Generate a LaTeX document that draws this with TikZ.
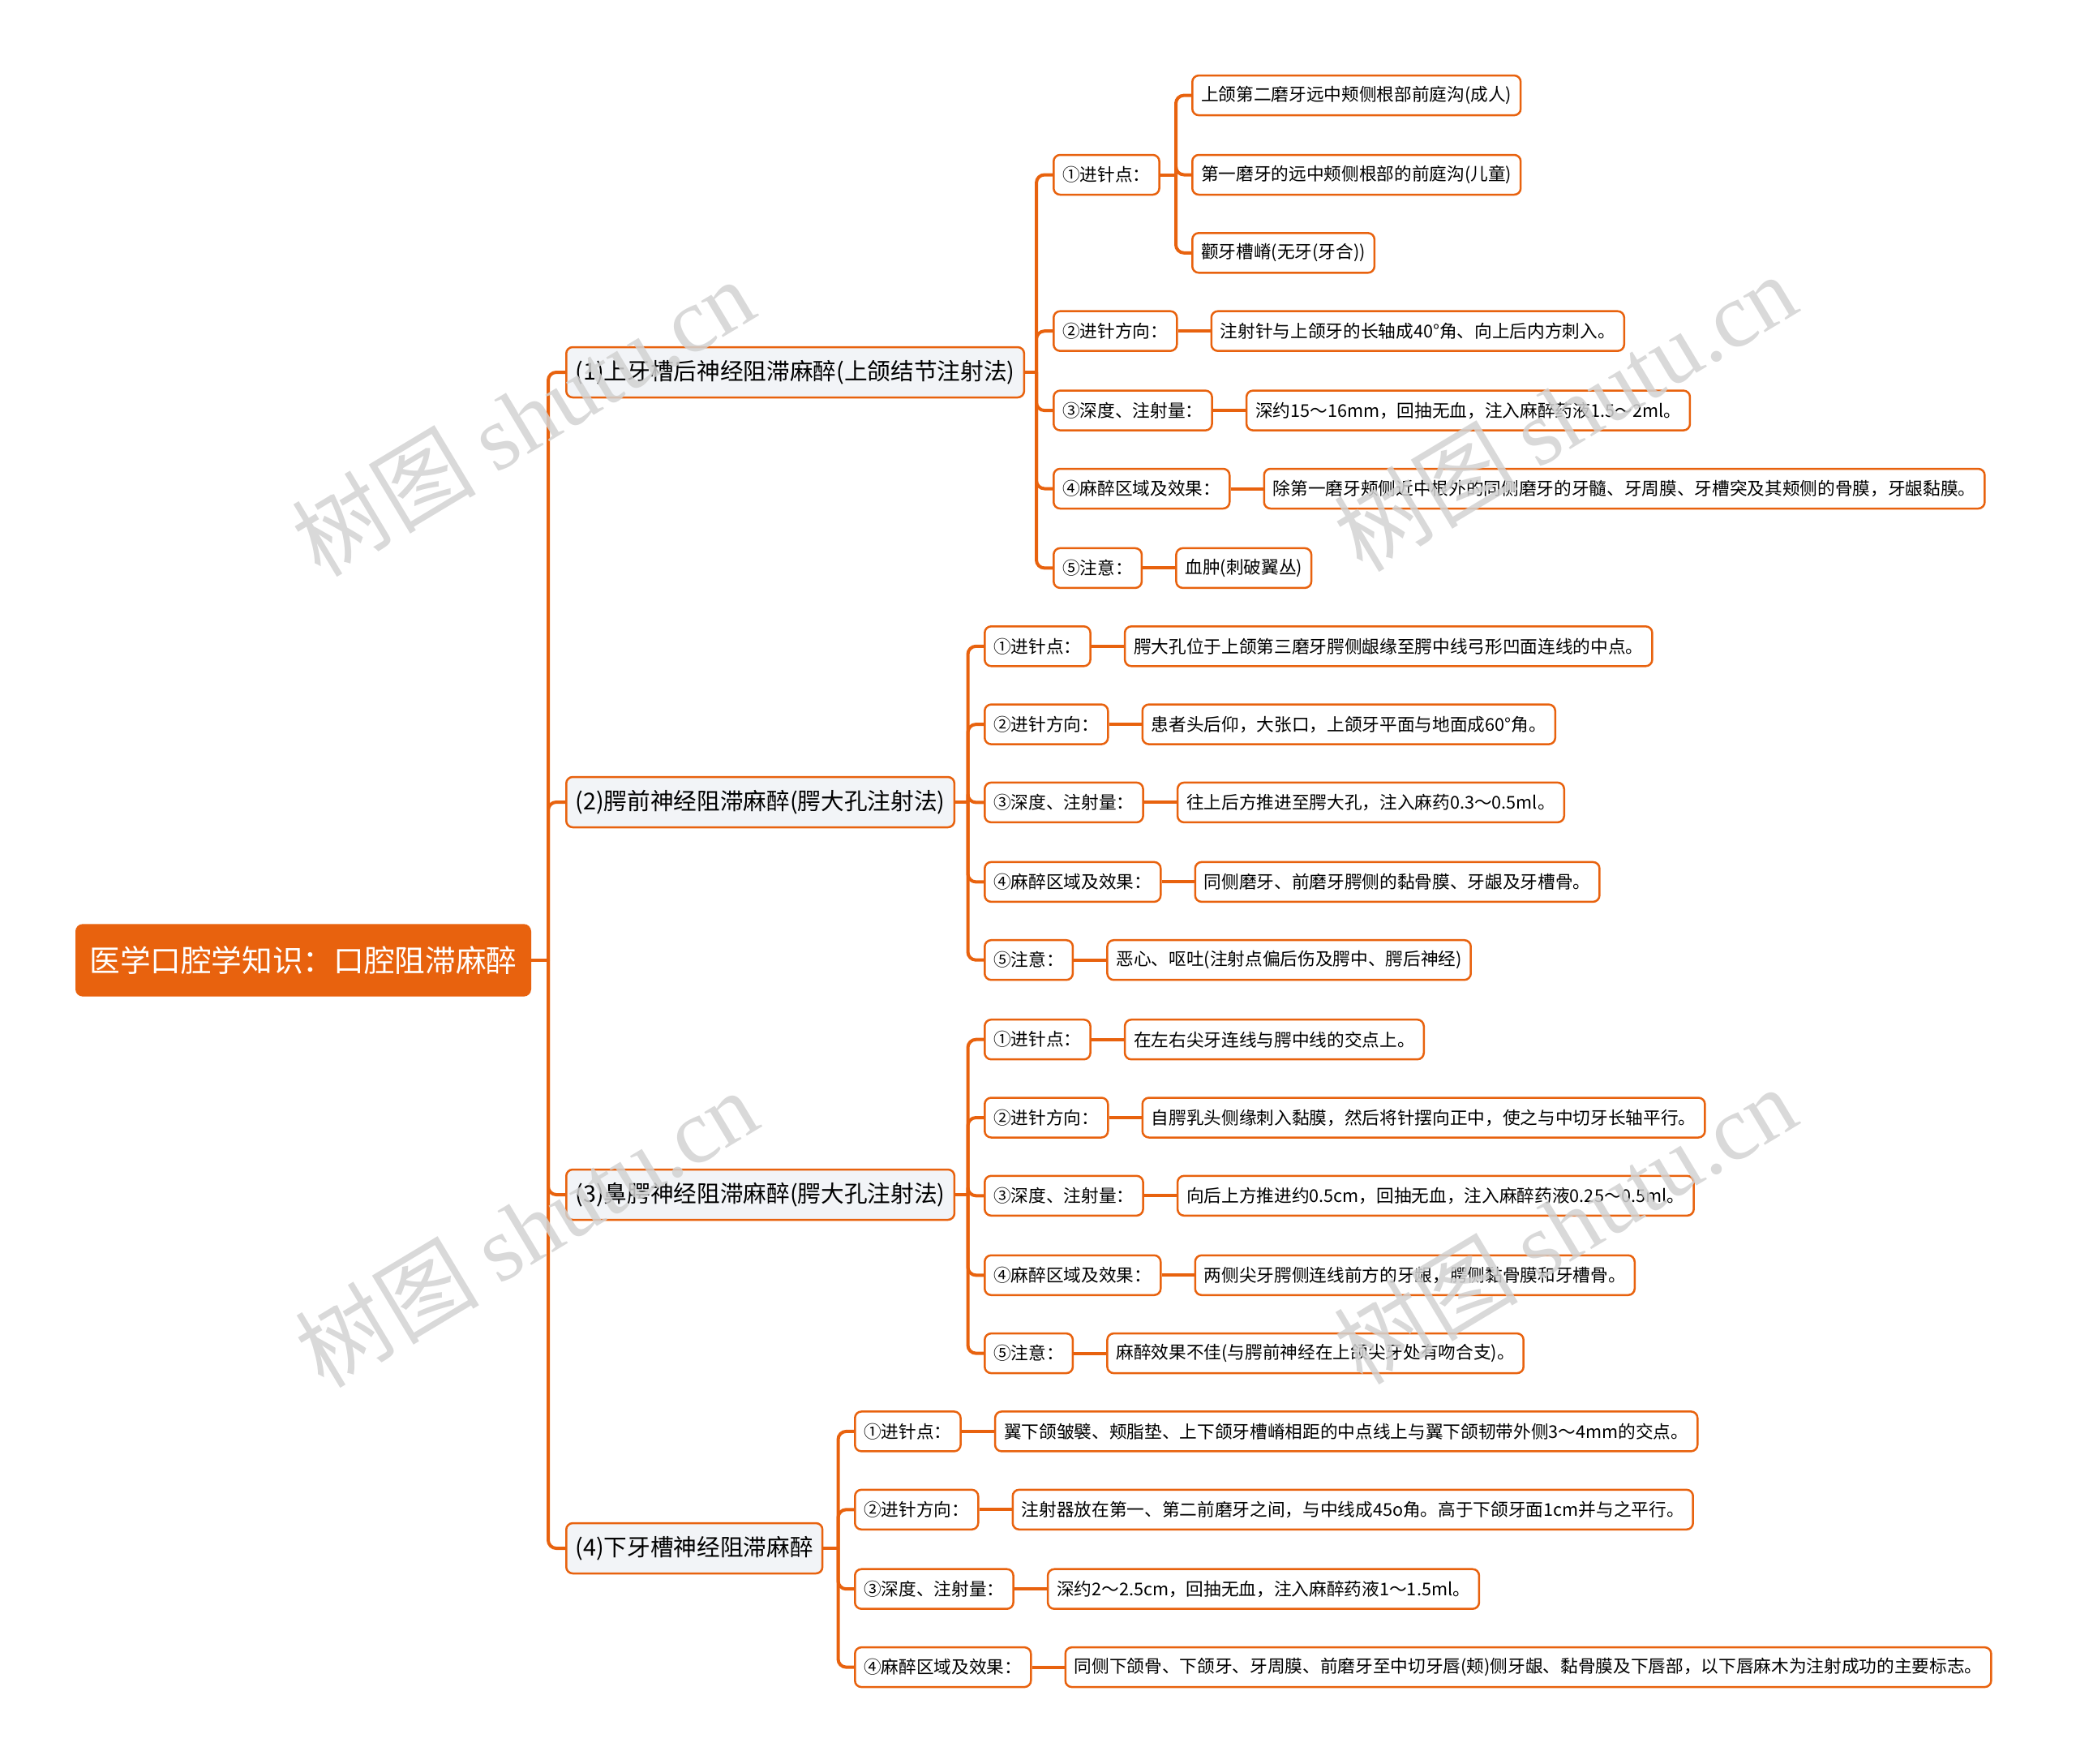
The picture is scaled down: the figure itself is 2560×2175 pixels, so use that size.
\documentclass[tikz,border=0pt]{standalone}
\usepackage{fontspec}
\newfontfamily\cjk{Noto Sans CJK SC}
\newfontfamily\wmserif{Liberation Serif}
\usetikzlibrary{positioning}
\definecolor{orng}{HTML}{E8620E}
\definecolor{lgray}{HTML}{F2F4F7}
\definecolor{wmgray}{HTML}{D2D2D2}
\tikzset{
  conn/.style={draw=orng, line width=1.2pt, rounded corners=3pt},
  rootbox/.style={fill=orng, draw=orng, rounded corners=2.5pt, text=white,
    font=\cjk\fontsize{11.3}{13}\selectfont, minimum height=26.4pt, inner xsep=5pt, anchor=west},
  lvone/.style={fill=lgray, draw=orng, line width=0.75pt, rounded corners=2.4pt,
    font=\cjk\fontsize{8.6}{10.5}\selectfont, minimum height=18.6pt, inner xsep=3.4pt, anchor=west},
  lvtwo/.style={fill=white, draw=orng, line width=0.75pt, rounded corners=2.4pt,
    font=\cjk\fontsize{6.5}{8}\selectfont, minimum height=14.7pt, inner xsep=3.3pt, anchor=west},
  wm/.style={text=wmgray, opacity=0.85, rotate=31, inner sep=0pt},
}
\begin{document}
\begin{tikzpicture}[x=0.3pt,y=-0.3pt]
\useasboundingbox (0,0) rectangle (2560,2175);

% root and level 1
\node[rootbox] (r) at (93,1184) {医学口腔学知识：口腔阻滞麻醉};
\node[lvone] (b1) at (697,459) {(1)上牙槽后神经阻滞麻醉(上颌结节注射法)};
\node[lvone] (b2) at (697,989) {(2)腭前神经阻滞麻醉(腭大孔注射法)};
\node[lvone] (b3) at (697,1473) {(3)鼻腭神经阻滞麻醉(腭大孔注射法)};
\node[lvone] (b4) at (697,1909) {(4)下牙槽神经阻滞麻醉};

\coordinate (t) at (676,1184);
\draw[conn] (r) -- (t);
\foreach \b in {b1,b2,b3,b4} \draw[conn] (t) |- (\b.west);

% branch 1
\node[lvtwo] (c11) at (1298,215.5) {①进针点：};
\node[lvtwo] (c12) at (1298,408.2) {②进针方向：};
\node[lvtwo] (c13) at (1298,506.1) {③深度、注射量：};
\node[lvtwo] (c14) at (1298,602.5) {④麻醉区域及效果：};
\node[lvtwo] (c15) at (1298,700.4) {⑤注意：};
\node[lvtwo] (l111) at (1469,117.6) {上颌第二磨牙远中颊侧根部前庭沟(成人)};
\node[lvtwo] (l112) at (1469,215.5) {第一磨牙的远中颊侧根部的前庭沟(儿童)};
\node[lvtwo] (l113) at (1469,311.8) {颧牙槽嵴(无牙(牙合))};
\node[lvtwo, right=12pt of c12] (l12) {注射针与上颌牙的长轴成40°角、向上后内方刺入。};
\node[lvtwo, right=12pt of c13] (l13) {深约15～16mm，回抽无血，注入麻醉药液1.5～2ml。};
\node[lvtwo, right=12pt of c14] (l14) {除第一磨牙颊侧近中根外的同侧磨牙的牙髓、牙周膜、牙槽突及其颊侧的骨膜，牙龈黏膜。};
\node[lvtwo, right=12pt of c15] (l15) {血肿(刺破翼丛)};
\coordinate (j1) at (1278,459);
\draw[conn] (b1) -- (j1);
\foreach \c in {c11,c12,c13,c14,c15} \draw[conn] (j1) |- (\c.west);
\coordinate (k1) at (1450,215.5);
\draw[conn] (c11) -- (k1);
\foreach \l in {l111,l112,l113} \draw[conn] (k1) |- (\l.west);
\foreach \i in {2,3,4,5} \draw[conn] (c1\i) -- (l1\i);

% branch 2
\node[lvtwo] (c21) at (1213,796.8) {①进针点：};
\node[lvtwo] (c22) at (1213,893.1) {②进针方向：};
\node[lvtwo] (c23) at (1213,989.4) {③深度、注射量：};
\node[lvtwo] (c24) at (1213,1087.4) {④麻醉区域及效果：};
\node[lvtwo] (c25) at (1213,1183.7) {⑤注意：};
\node[lvtwo, right=12pt of c21] (l21) {腭大孔位于上颌第三磨牙腭侧龈缘至腭中线弓形凹面连线的中点。};
\node[lvtwo, right=12pt of c22] (l22) {患者头后仰，大张口，上颌牙平面与地面成60°角。};
\node[lvtwo, right=12pt of c23] (l23) {往上后方推进至腭大孔，注入麻药0.3～0.5ml。};
\node[lvtwo, right=12pt of c24] (l24) {同侧磨牙、前磨牙腭侧的黏骨膜、牙龈及牙槽骨。};
\node[lvtwo, right=12pt of c25] (l25) {恶心、呕吐(注射点偏后伤及腭中、腭后神经)};
\coordinate (j2) at (1193.5,989);
\draw[conn] (b2) -- (j2);
\foreach \i in {1,...,5} {\draw[conn] (j2) |- (c2\i.west); \draw[conn] (c2\i) -- (l2\i);}

% branch 3
\node[lvtwo] (c31) at (1213,1281.7) {①进针点：};
\node[lvtwo] (c32) at (1213,1378) {②进针方向：};
\node[lvtwo] (c33) at (1213,1474.3) {③深度、注射量：};
\node[lvtwo] (c34) at (1213,1572.3) {④麻醉区域及效果：};
\node[lvtwo] (c35) at (1213,1668.6) {⑤注意：};
\node[lvtwo, right=12pt of c31] (l31) {在左右尖牙连线与腭中线的交点上。};
\node[lvtwo, right=12pt of c32] (l32) {自腭乳头侧缘刺入黏膜，然后将针摆向正中，使之与中切牙长轴平行。};
\node[lvtwo, right=12pt of c33] (l33) {向后上方推进约0.5cm，回抽无血，注入麻醉药液0.25～0.5ml。};
\node[lvtwo, right=12pt of c34] (l34) {两侧尖牙腭侧连线前方的牙龈，腭侧黏骨膜和牙槽骨。};
\node[lvtwo, right=12pt of c35] (l35) {麻醉效果不佳(与腭前神经在上颌尖牙处有吻合支)。};
\coordinate (j3) at (1193.5,1473);
\draw[conn] (b3) -- (j3);
\foreach \i in {1,...,5} {\draw[conn] (j3) |- (c3\i.west); \draw[conn] (c3\i) -- (l3\i);}

% branch 4
\node[lvtwo] (c41) at (1053,1764.9) {①进针点：};
\node[lvtwo] (c42) at (1053,1861.3) {②进针方向：};
\node[lvtwo] (c43) at (1053,1959.2) {③深度、注射量：};
\node[lvtwo] (c44) at (1053,2055.6) {④麻醉区域及效果：};
\node[lvtwo, right=12pt of c41] (l41) {翼下颌皱襞、颊脂垫、上下颌牙槽嵴相距的中点线上与翼下颌韧带外侧3～4mm的交点。};
\node[lvtwo, right=12pt of c42] (l42) {注射器放在第一、第二前磨牙之间，与中线成45o角。高于下颌牙面1cm并与之平行。};
\node[lvtwo, right=12pt of c43] (l43) {深约2～2.5cm，回抽无血，注入麻醉药液1～1.5ml。};
\node[lvtwo, right=12pt of c44] (l44) {同侧下颌骨、下颌牙、牙周膜、前磨牙至中切牙唇(颊)侧牙龈、黏骨膜及下唇部，以下唇麻木为注射成功的主要标志。};
\coordinate (j4) at (1033.5,1909);
\draw[conn] (b4) -- (j4);
\foreach \i in {1,...,4} {\draw[conn] (j4) |- (c4\i.west); \draw[conn] (c4\i) -- (l4\i);}

% watermarks
\node[wm] (w1) at (645,514) {\cjk\fontsize{34}{40}\selectfont 树图 \wmserif shutu.cn};
\node[wm] (w2) at (1930,508) {\cjk\fontsize{34}{40}\selectfont 树图 \wmserif shutu.cn};
\node[wm] (w3) at (649,1514) {\cjk\fontsize{34}{40}\selectfont 树图 \wmserif shutu.cn};
\node[wm] (w4) at (1930,1510) {\cjk\fontsize{34}{40}\selectfont 树图 \wmserif shutu.cn};
\end{tikzpicture}
\end{document}
